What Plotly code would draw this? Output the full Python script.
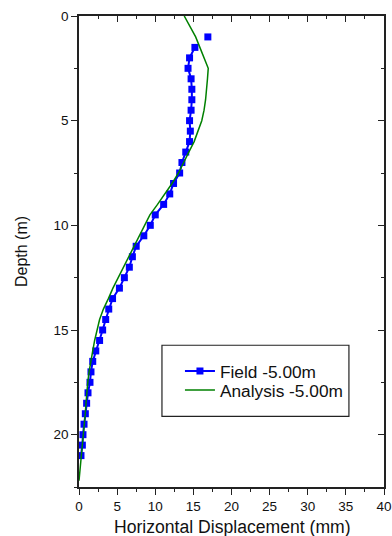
import plotly.graph_objects as go

# Field measurements (depth in m, displacement in mm)
field_depth = [1.5, 2.0, 2.5, 3.0, 3.5, 4.0, 4.5, 5.0, 5.5, 6.0, 6.5, 7.0, 7.5, 8.0, 8.5,
               9.0, 9.5, 10.0, 10.5, 11.0, 11.5, 12.0, 12.5, 13.0, 13.5, 14.0, 14.5, 15.0,
               15.5, 16.0, 16.5, 17.0, 17.5, 18.0, 18.5, 19.0, 19.5, 20.0, 20.5, 21.0]
field_disp = [15.2, 14.5, 14.3, 14.7, 14.8, 14.8, 14.7, 14.5, 14.6, 14.5, 14.0, 13.5, 13.2, 12.4, 11.9,
              11.1, 10.0, 9.35, 8.5, 7.5, 7.0, 6.6, 5.95, 5.3, 4.4, 3.9, 3.5, 3.1,
              2.7, 2.2, 1.8, 1.57, 1.44, 1.18, 1.0, 0.83, 0.66, 0.52, 0.44, 0.26]
field_top_depth = [1.0]
field_top_disp = [16.9]

# Analysis curve
analysis_depth = [0.0, 0.5, 1.0, 1.5, 2.0, 2.5, 3.0, 3.5, 4.0, 4.5, 5.0, 5.5, 6.0, 6.5, 7.0,
                  7.5, 8.0, 8.5, 9.0, 9.5, 10.0, 10.5, 11.0, 11.5, 12.0, 12.5, 13.0, 13.5,
                  14.0, 14.5, 15.0, 15.5, 16.0, 16.5, 17.0, 17.5, 18.0, 18.5, 19.0, 19.5,
                  20.0, 20.5, 21.0, 21.5, 22.0, 22.2]
analysis_disp = [13.8, 14.6, 15.3, 15.85, 16.4, 16.95, 16.85, 16.75, 16.6, 16.4, 16.1, 15.6, 15.1, 14.4, 13.7,
                 13.05, 12.2, 11.3, 10.3, 9.3, 8.6, 7.85, 7.2, 6.5, 5.8, 5.1, 4.45, 3.85,
                 3.2, 2.7, 2.35, 2.05, 1.8, 1.55, 1.32, 1.15, 1.0, 0.92, 0.82, 0.7,
                 0.55, 0.45, 0.32, 0.18, 0.04, 0.0]

x_ticks = [0, 5, 10, 15, 20, 25, 30, 35, 40]
y_ticks = [0, 5, 10, 15, 20]

FONT = "Arial, Liberation Sans, sans-serif"
BLUE = "#0000ff"
GREEN = "#008000"
AX = "#222222"

fig = go.Figure()
fig.add_trace(go.Scatter(x=field_disp, y=field_depth, mode="lines+markers",
                         name="Field -5.00m", legend="legend",
                         line=dict(color=BLUE, width=2),
                         marker=dict(symbol="square", size=7, color=BLUE)))
fig.add_trace(go.Scatter(x=field_top_disp, y=field_top_depth, mode="markers",
                         showlegend=False,
                         marker=dict(symbol="square", size=7, color=BLUE)))
fig.add_trace(go.Scatter(x=analysis_disp, y=analysis_depth, mode="lines",
                         name="Analysis -5.00m", legend="legend2",
                         line=dict(color=GREEN, width=1.5)))
# invisible copy on the mirror axes so the top/right frame is drawn
fig.add_trace(go.Scatter(x=analysis_disp, y=analysis_depth, mode="lines",
                         xaxis="x2", yaxis="y2", showlegend=False, hoverinfo="skip",
                         line=dict(color="rgba(0,0,0,0)", width=0)))

axis_common = dict(showline=True, linecolor=AX, linewidth=1.6, showgrid=False,
                   zeroline=False, tickcolor=AX)

leg_common = dict(xanchor="left", yanchor="middle", borderwidth=0,
                  bgcolor="rgba(0,0,0,0)", font=dict(size=17.3, family=FONT, color="#111"))

fig.update_layout(
    width=392, height=536,
    margin=dict(l=79, r=8, t=16, b=49),
    paper_bgcolor="white", plot_bgcolor="white",
    font=dict(family=FONT, size=13.5, color="#111"),
    showlegend=True,
    legend=dict(x=0.331, y=0.246, **leg_common),
    legend2=dict(x=0.331, y=0.2056, **leg_common),
    shapes=[dict(type="rect", xref="paper", yref="paper",
                 x0=0.272, x1=0.885, y0=0.150, y1=0.301,
                 line=dict(color=AX, width=1.2), fillcolor="rgba(0,0,0,0)", layer="above")],
    annotations=[dict(text="Horizontal Displacement (mm)", xref="paper", yref="paper",
                      x=0.503, y=-0.0585, xanchor="center", yanchor="top", showarrow=False,
                      font=dict(size=17.6, family=FONT, color="#111"))],
    xaxis=dict(range=[0, 40], tickvals=x_ticks, ticktext=[str(v) for v in x_ticks],
               ticks="outside", ticklen=6, tickwidth=1.2,
               minor=dict(dtick=2.5, tick0=0, ticks="outside", ticklen=3, tickcolor=AX),
               automargin=False, fixedrange=True, **axis_common),
    yaxis=dict(range=[22.5, 0], tickvals=y_ticks, ticktext=[str(v) for v in y_ticks],
               ticks="outside", ticklen=6, tickwidth=1.2,
               minor=dict(dtick=2.5, tick0=0, ticks="outside", ticklen=3, tickcolor=AX),
               title=dict(text="Depth (m)", font=dict(size=16), standoff=22),
               automargin=False, fixedrange=True, **axis_common),
    xaxis2=dict(range=[0, 40], overlaying="x", side="top", anchor="y",
                tickvals=x_ticks, showticklabels=False,
                ticks="inside", ticklen=6, tickwidth=1.2,
                minor=dict(dtick=2.5, tick0=0, ticks="inside", ticklen=3, tickcolor=AX),
                fixedrange=True, **axis_common),
    yaxis2=dict(range=[22.5, 0], overlaying="y", side="right", anchor="x",
                tickvals=y_ticks, showticklabels=False,
                ticks="inside", ticklen=6, tickwidth=1.2,
                minor=dict(dtick=2.5, tick0=0, ticks="inside", ticklen=3, tickcolor=AX),
                fixedrange=True, **axis_common),
)

fig.write_html("out.html", config={"displayModeBar": False},
               post_script="document.body.style.margin='0';document.body.style.padding='0';")
